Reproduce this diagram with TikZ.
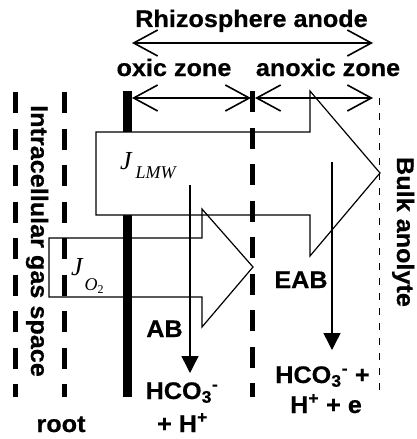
\documentclass[tikz,border=0pt]{standalone}
\usepackage{fontspec}
\setmainfont{Liberation Sans}[FakeStretch=1.05, BoldFeatures={FakeBold=0.5}]
\newfontfamily\fluxfont{Liberation Serif}
\usetikzlibrary{arrows.meta}

\begin{document}
\begin{tikzpicture}[
    x=1pt, y=-1pt,
    lbl/.style={font=\fontsize{24}{28}\selectfont\bfseries, inner sep=0pt, anchor=base},
    fluxlbl/.style={font=\fluxfont\itshape\fontsize{26}{26}\selectfont, inner sep=0pt, anchor=base west},
    zonearrow/.style={{Straight Barb[length=24pt,width=26pt]}-{Straight Barb[length=24pt,width=26pt]}, line width=1.6pt},
    flux/.style={line width=1.2pt, line join=miter},
    uptake/.style={-{Triangle[length=17pt,width=17pt]}, line width=1.5pt},
    membrane/.style={line width=5pt, dash pattern=on 21pt off 15.5pt},
    bulkline/.style={line width=1pt, dash pattern=on 7pt off 8pt}
]
\useasboundingbox (0,0) rectangle (417,439);

\fill (123,91) rectangle (132,397);
\draw[flux, fill=white] (96,132) -- (310,132) -- (310,91) -- (380,173) -- (310,256) -- (310,215) -- (96,215) -- cycle;
\draw[flux] (49,238) -- (202,238) -- (202,209) -- (253,267) -- (202,327) -- (202,297) -- (49,297) -- cycle;

\coordinate (lmwsrc) at (190,185);
\coordinate (lmwend) at (190,373);
\coordinate (eabsrc) at (332,162);
\coordinate (eabend) at (332,350);
\draw[uptake] (lmwsrc) -- (lmwend);
\draw[uptake] (eabsrc) -- (eabend);

\draw[membrane] (15.5,92) -- (15.5,397);
\draw[membrane] (64.5,92) -- (64.5,397);
\draw[membrane] (252.5,91) -- (252.5,397);
\draw[bulkline] (379,98) -- (379,395);

\coordinate (anodeL) at (132,43);
\coordinate (anodeR) at (373,43);
\coordinate (oxicL) at (132,98);
\coordinate (oxicR) at (251,98);
\coordinate (anoxicL) at (255,98);
\coordinate (anoxicR) at (373,98);
\draw[zonearrow] (anodeL) -- (anodeR);
\draw[zonearrow] (oxicL) -- (oxicR);
\draw[zonearrow] (anoxicL) -- (anoxicR);

\node[lbl] (anode) at (251.5,27) {Rhizosphere anode};
\node[lbl] (oxic) at (174,76) {oxic zone};
\node[lbl] (anoxic) at (328,76) {anoxic zone};
\node[lbl, rotate=-90] (gas) at (31,241) {Intracellular gas space};
\node[lbl, rotate=-90] (bulk) at (397,232) {Bulk anolyte};
\node[lbl] (ab) at (164.5,337) {AB};
\node[lbl] (eab) at (301,288) {EAB};
\node[lbl] (hcoA) at (182,399) {HCO\textsubscript{3}\textsuperscript{-}};
\node[lbl] (hA) at (182.5,432) {+ H\textsuperscript{+}};
\node[lbl] (hcoB) at (322.5,383) {HCO\textsubscript{3}\textsuperscript{-} +};
\node[lbl] (hB) at (326,413) {H\textsuperscript{+} + e};
\node[lbl] (root) at (61,432) {root};

\node[fluxlbl] (jlmw) at (120,169) {J\kern4pt\raisebox{-9pt}{\fontsize{18}{18}\selectfont LMW}};
\node[fluxlbl] (jo2) at (71,275) {J\kern2pt\raisebox{-15pt}{\fontsize{18}{18}\selectfont O\raisebox{-3pt}{\upshape\fontsize{12}{12}\selectfont 2}}};
\end{tikzpicture}
\end{document}
